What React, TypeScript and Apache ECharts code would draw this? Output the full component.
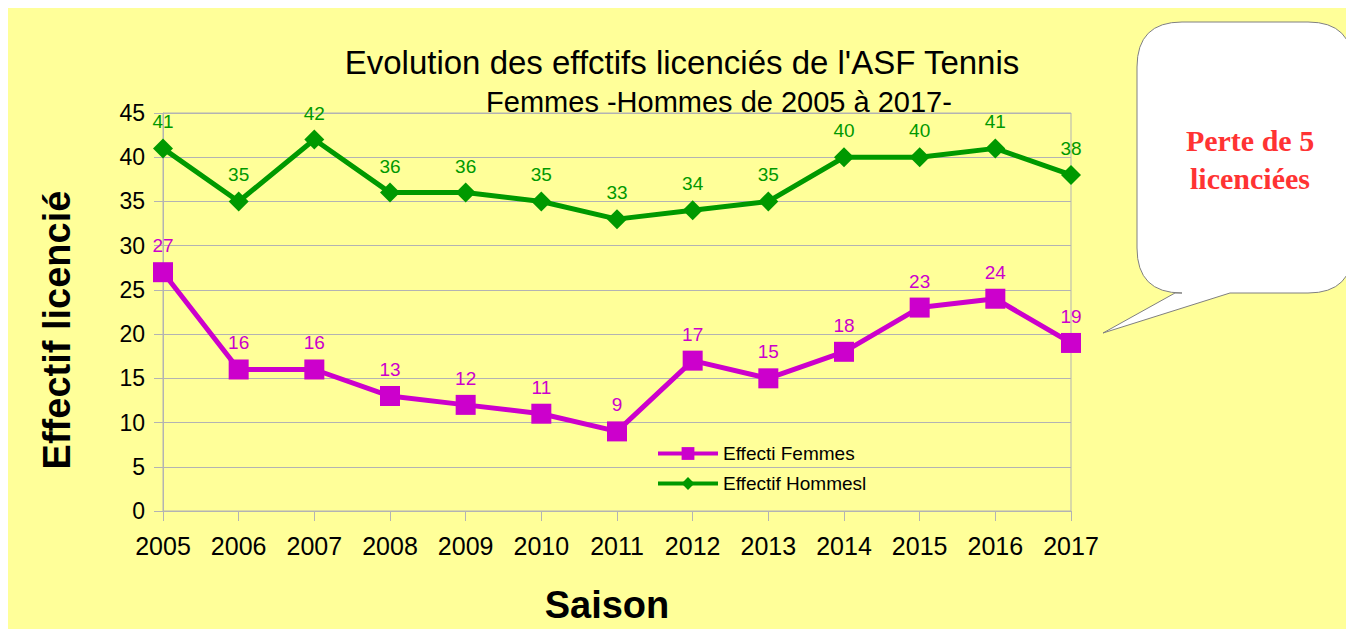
import React, { useEffect, useRef } from "react";
import * as echarts from "echarts";

const seasons = ["2005", "2006", "2007", "2008", "2009", "2010", "2011", "2012", "2013", "2014", "2015", "2016", "2017"];
const femmes = [27, 16, 16, 13, 12, 11, 9, 17, 15, 18, 23, 24, 19];
const hommes = [41, 35, 42, 36, 36, 35, 33, 34, 35, 40, 40, 41, 38];
const titleText = "Evolution des effctifs licenciés de l'ASF Tennis";
const subtitleText = "Femmes -Hommes de 2005 à 2017-";
const yName = "Effectif licencié";
const xName = "Saison";
const calloutLines = ["Perte de 5", "licenciées"];

const calloutPath =
  "M 1174 14 L 1300 14 Q 1345 14 1345 59 L 1345 240 Q 1345 285 1300 285 L 1222 285 L 1095 325 L 1167 285 L 1174 285 Q 1129 285 1129 240 L 1129 59 Q 1129 14 1174 14 Z";

echarts.graphic.registerShape("callout", echarts.graphic.extendPath(calloutPath, {}) as any);

export default function App() {
  const ref = useRef<HTMLDivElement>(null);
  useEffect(() => {
    document.body.style.overflow = "hidden";
    const chart = echarts.init(ref.current!, null, { renderer: "svg" });
    const font = "'Liberation Sans', Arial, sans-serif";
    const serif = "bold 30px 'Liberation Serif', 'Times New Roman', serif";
    chart.setOption({
      animation: false,
      backgroundColor: "#FFFF99",
      textStyle: { fontFamily: font },
      title: [
        {
          text: titleText,
          left: 669,
          top: 33,
          textAlign: "center",
          textStyle: { fontFamily: font, fontSize: 33, fontWeight: "normal", color: "#000" },
        },
        {
          text: subtitleText,
          left: 706,
          top: 74,
          textAlign: "center",
          textStyle: { fontFamily: font, fontSize: 29, fontWeight: "normal", color: "#000" },
        },
      ],
      legend: {
        orient: "vertical",
        left: 643,
        top: 431,
        itemWidth: 60,
        itemHeight: 16,
        itemGap: 11,
        lineStyle: { width: 4 },
        textStyle: { fontFamily: font, fontSize: 19, color: "#000" },
        data: ["Effecti Femmes", "Effectif Hommesl"],
      },
      grid: {
        left: 155,
        right: 283,
        top: 105,
        bottom: 118,
        show: true,
        borderColor: "#b3b3b3",
        borderWidth: 1,
      },
      xAxis: {
        type: "category",
        data: seasons,
        boundaryGap: false,
        axisLine: { lineStyle: { color: "#b3b3b3", width: 1 } },
        axisTick: { show: true, length: 10, lineStyle: { color: "#b3b3b3" } },
        axisLabel: { fontSize: 25, color: "#000", margin: 22, fontFamily: font },
        splitLine: { show: false },
      },
      yAxis: {
        type: "value",
        min: 0,
        max: 45,
        interval: 5,
        axisLine: { show: true, lineStyle: { color: "#b3b3b3", width: 1 } },
        axisTick: { show: true, length: 9, lineStyle: { color: "#b3b3b3" } },
        axisLabel: { fontSize: 23, color: "#000", margin: 18, fontFamily: font },
        splitLine: { show: true, lineStyle: { color: "#b3b3b3", width: 1 } },
      },
      series: [
        {
          name: "Effecti Femmes",
          type: "line",
          data: femmes,
          symbol: "rect",
          symbolSize: 20,
          color: "#CC00CC",
          lineStyle: { width: 5, color: "#CC00CC" },
          itemStyle: { color: "#CC00CC" },
          label: { show: true, position: "top", distance: 7, fontSize: 19, color: "#CC00CC", fontFamily: font },
        },
        {
          name: "Effectif Hommesl",
          type: "line",
          data: hommes,
          symbol: "diamond",
          symbolSize: 20,
          color: "#009900",
          lineStyle: { width: 5, color: "#009900" },
          itemStyle: { color: "#009900" },
          label: { show: true, position: "top", distance: 7, fontSize: 19, color: "#009900", fontFamily: font },
        },
      ],
      graphic: [
        {
          type: "text",
          x: 49,
          y: 322,
          rotation: Math.PI / 2,
          style: {
            text: yName,
            fill: "#000",
            font: "bold 38px 'Liberation Sans', Arial, sans-serif",
            align: "center",
            verticalAlign: "middle",
          },
        },
        {
          type: "text",
          x: 599,
          y: 597,
          style: {
            text: xName,
            fill: "#000",
            font: "bold 38px 'Liberation Sans', Arial, sans-serif",
            align: "center",
            verticalAlign: "middle",
          },
        },
        {
          type: "callout",
          x: 0,
          y: 0,
          z: 10,
          style: { fill: "#ffffff", stroke: "#808080", lineWidth: 1 },
        },
        {
          type: "text",
          x: 1242,
          y: 132,
          z: 11,
          style: { text: calloutLines[0], fill: "#FF3333", font: serif, align: "center", verticalAlign: "middle" },
        },
        {
          type: "text",
          x: 1242,
          y: 170,
          z: 11,
          style: { text: calloutLines[1], fill: "#FF3333", font: serif, align: "center", verticalAlign: "middle" },
        },
      ],
    });
    return () => chart.dispose();
  }, []);
  return <div ref={ref} style={{ width: 1346, height: 621 }} />;
}
